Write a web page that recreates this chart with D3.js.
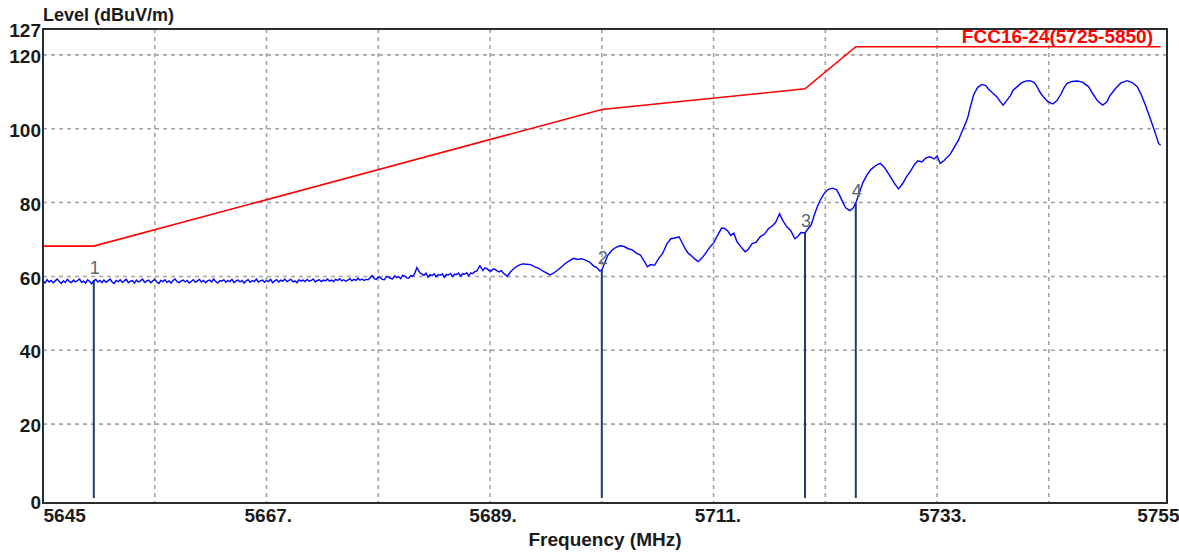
<!DOCTYPE html>
<html lang="en">

<head>
    <meta charset="UTF-8">
    <title>Radiated emission - band edge</title>
    <script src="https://d3js.org/d3.v7.min.js"></script>
    <style>
        body { margin: 0; background: #fff; }
        svg { display: block; font-family: "Liberation Sans", Arial, sans-serif; }
    </style>
</head>

<body>
    <div id="chart"></div>

    <script>
        // Axis ticks
        const yTicks = [0, 20, 40, 60, 80, 100, 120, 127];
        const yGrid = [20, 40, 60, 80, 100, 120];
        const xLabels = [5645, 5667, 5689, 5711, 5733, 5755];
        const xLabelText = ["5645", "5667.", "5689.", "5711.", "5733.", "5755"];
        const xGrid = [5656, 5667, 5678, 5689, 5700, 5711, 5722, 5733, 5744];

        // FCC limit line (MHz, dBuV/m)
        const limitName = "FCC16-24(5725-5850)";
        const limit = [[5645, 68.2], [5650, 68.2], [5700, 105.2], [5720, 110.8], [5725, 122.2], [5755, 122.2]];

        // Markers (MHz, dBuV/m)
        const markerIds = ["1", "2", "3", "4"];
        const markers = [[5650, 59.0], [5700, 61.7], [5720, 71.8], [5725, 79.8]];

        const trace = [
            [5645.0, 58.9], [5645.2, 58.2], [5645.4, 59.1], [5645.6, 58.5], [5645.8, 58.9], [5646.0, 58.3], [5646.2, 58.8], [5646.4, 59.3], [5646.6, 58.6], [5646.8, 58.1],
            [5647.0, 58.8], [5647.2, 58.4], [5647.4, 59.2], [5647.6, 58.6], [5647.8, 58.3], [5648.0, 59.0], [5648.2, 58.5], [5648.4, 58.9], [5648.6, 59.3], [5648.8, 58.4],
            [5649.0, 58.7], [5649.2, 58.2], [5649.4, 59.1], [5649.6, 58.6], [5649.8, 58.0], [5650.0, 58.8], [5650.2, 59.2], [5650.4, 58.5], [5650.6, 58.9], [5650.8, 58.3],
            [5651.0, 59.0], [5651.2, 58.4], [5651.4, 58.8], [5651.6, 59.3], [5651.8, 58.5], [5652.0, 58.1], [5652.2, 58.9], [5652.4, 58.6], [5652.6, 59.1], [5652.8, 58.4],
            [5653.0, 58.8], [5653.2, 59.2], [5653.4, 58.3], [5653.6, 58.7], [5653.8, 58.9], [5654.0, 58.2], [5654.2, 59.0], [5654.4, 58.5], [5654.6, 58.8], [5654.8, 59.3],
            [5655.0, 58.4], [5655.2, 58.7], [5655.4, 59.0], [5655.6, 58.3], [5655.8, 58.8], [5656.0, 59.2], [5656.2, 58.5], [5656.4, 58.1], [5656.6, 58.9], [5656.8, 58.6],
            [5657.0, 59.1], [5657.2, 58.4], [5657.4, 58.8], [5657.6, 58.2], [5657.8, 58.9], [5658.0, 59.3], [5658.2, 58.6], [5658.4, 58.3], [5658.6, 58.8], [5658.8, 59.0],
            [5659.0, 58.5], [5659.2, 58.9], [5659.4, 58.2], [5659.6, 58.7], [5659.8, 59.1], [5660.0, 58.4], [5660.2, 58.8], [5660.4, 59.2], [5660.6, 58.5], [5660.8, 58.9],
            [5661.0, 58.3], [5661.2, 58.8], [5661.4, 59.0], [5661.6, 58.5], [5661.8, 59.3], [5662.0, 58.6], [5662.2, 58.2], [5662.4, 58.9], [5662.6, 58.7], [5662.8, 59.1],
            [5663.0, 58.4], [5663.2, 58.9], [5663.4, 58.6], [5663.6, 59.2], [5663.8, 58.3], [5664.0, 58.8], [5664.2, 59.0], [5664.4, 58.5], [5664.6, 58.9], [5664.8, 58.2],
            [5665.0, 58.8], [5665.2, 59.1], [5665.4, 58.4], [5665.6, 58.9], [5665.8, 58.6], [5666.0, 59.3], [5666.2, 58.5], [5666.4, 58.8], [5666.6, 59.0], [5666.8, 58.4],
            [5667.0, 58.9], [5667.2, 58.6], [5667.4, 59.2], [5667.6, 58.3], [5667.8, 58.8], [5668.0, 59.1], [5668.2, 58.5], [5668.4, 59.0], [5668.6, 58.7], [5668.8, 59.3],
            [5669.0, 58.6], [5669.2, 58.9], [5669.4, 59.2], [5669.6, 58.5], [5669.8, 58.8], [5670.0, 58.3], [5670.2, 59.1], [5670.4, 58.7], [5670.6, 59.0], [5670.8, 58.6],
            [5671.0, 59.2], [5671.2, 58.7], [5671.4, 58.9], [5671.6, 59.3], [5671.8, 58.5], [5672.0, 58.9], [5672.2, 59.1], [5672.4, 58.6], [5672.6, 59.0], [5672.8, 58.8],
            [5673.0, 59.3], [5673.2, 58.7], [5673.4, 59.0], [5673.6, 58.6], [5673.8, 59.2], [5674.0, 58.9], [5674.2, 59.4], [5674.4, 58.8], [5674.6, 59.1], [5674.8, 58.7],
            [5675.0, 59.0], [5675.2, 59.4], [5675.4, 58.8], [5675.6, 59.2], [5675.8, 58.9], [5676.0, 59.5], [5676.2, 59.0], [5676.4, 59.3], [5676.6, 58.9], [5676.8, 59.2],
            [5677.0, 59.1], [5677.4, 60.2], [5677.6, 59.4], [5677.8, 59.2], [5678.0, 59.9], [5678.2, 59.6], [5678.4, 59.2], [5678.6, 59.1], [5678.8, 60.0], [5679.0, 59.8],
            [5679.2, 59.5], [5679.4, 59.3], [5679.6, 60.1], [5679.8, 59.7], [5680.0, 59.9], [5680.2, 59.4], [5680.4, 60.3], [5680.6, 60.1], [5680.8, 59.6], [5681.0, 59.5],
            [5681.2, 60.2], [5681.4, 60.0], [5681.6, 60.9], [5681.8, 62.4], [5682.1, 61.0], [5682.3, 60.6], [5682.5, 60.3], [5682.7, 60.9], [5682.9, 59.8], [5683.1, 60.5],
            [5683.3, 60.2], [5683.5, 60.7], [5683.7, 59.9], [5683.9, 60.5], [5684.1, 60.3], [5684.3, 60.7], [5684.5, 59.8], [5684.7, 60.5], [5684.9, 60.4], [5685.1, 60.8],
            [5685.3, 60.0], [5685.5, 60.6], [5685.7, 60.5], [5685.9, 60.9], [5686.1, 60.1], [5686.3, 60.7], [5686.5, 60.6], [5686.7, 61.0], [5686.9, 60.2], [5687.1, 60.9],
            [5687.3, 60.8], [5687.5, 61.3], [5687.7, 61.5], [5688.0, 62.9], [5688.3, 61.6], [5688.5, 62.3], [5688.7, 62.1], [5688.9, 61.6], [5689.1, 61.4], [5689.3, 62.0],
            [5689.5, 61.9], [5689.7, 61.5], [5689.9, 61.2], [5690.1, 61.6], [5690.3, 60.9], [5690.5, 60.5], [5690.7, 60.0], [5691.0, 61.2], [5691.4, 62.3], [5691.8, 63.0],
            [5692.2, 63.4], [5692.6, 63.3], [5693.0, 63.2], [5693.4, 62.6], [5693.8, 62.2], [5694.2, 61.4], [5694.6, 60.9], [5694.9, 60.4], [5695.2, 60.8], [5695.6, 61.6],
            [5696.0, 62.5], [5696.4, 63.5], [5696.8, 64.2], [5697.2, 64.9], [5697.6, 64.6], [5698.0, 64.8], [5698.4, 64.4], [5698.8, 63.9], [5699.2, 62.8], [5699.5, 62.4],
            [5699.8, 61.5], [5700.0, 61.7], [5700.3, 63.8], [5700.6, 65.8], [5701.0, 67.1], [5701.4, 67.9], [5701.8, 68.3], [5702.2, 68.1], [5702.6, 67.5], [5703.0, 67.2],
            [5703.4, 66.3], [5703.8, 65.8], [5704.2, 64.0], [5704.5, 62.6], [5704.8, 63.2], [5705.2, 63.0], [5705.6, 64.9], [5706.0, 66.3], [5706.4, 68.8], [5706.8, 70.2],
            [5707.2, 70.4], [5707.6, 70.7], [5707.9, 69.2], [5708.2, 67.5], [5708.5, 66.3], [5708.9, 65.4], [5709.2, 64.6], [5709.5, 64.0], [5709.9, 65.1], [5710.3, 66.6],
            [5710.7, 68.2], [5711.0, 69.0], [5711.4, 71.2], [5711.8, 73.1], [5712.1, 73.0], [5712.4, 72.3], [5712.7, 71.1], [5713.0, 71.7], [5713.3, 69.4], [5713.7, 68.0],
            [5714.1, 66.7], [5714.4, 67.3], [5714.8, 68.9], [5715.2, 69.3], [5715.6, 70.8], [5716.0, 71.4], [5716.4, 72.9], [5716.8, 73.7], [5717.1, 74.6], [5717.5, 77.0],
            [5717.8, 75.2], [5718.2, 73.5], [5718.6, 72.4], [5719.0, 70.2], [5719.3, 70.8], [5719.6, 71.9], [5720.0, 71.8], [5720.3, 72.9], [5720.6, 73.9], [5720.9, 76.5],
            [5721.2, 78.8], [5721.5, 80.7], [5721.9, 82.5], [5722.3, 83.6], [5722.7, 83.9], [5723.1, 83.5], [5723.4, 82.0], [5723.7, 80.2], [5724.0, 78.6], [5724.4, 77.8],
            [5724.7, 78.4], [5725.0, 79.9], [5725.3, 82.3], [5725.7, 85.4], [5726.1, 87.5], [5726.5, 89.0], [5727.0, 90.1], [5727.4, 90.6], [5727.8, 89.6], [5728.1, 88.3],
            [5728.4, 87.0], [5728.8, 85.2], [5729.2, 83.7], [5729.6, 85.1], [5730.0, 87.0], [5730.4, 88.6], [5730.8, 90.4], [5731.1, 91.3], [5731.5, 91.0], [5731.9, 92.1],
            [5732.3, 92.4], [5732.7, 91.8], [5733.0, 92.6], [5733.3, 90.6], [5733.7, 91.4], [5734.0, 92.3], [5734.3, 93.1], [5734.7, 95.0], [5735.1, 96.9], [5735.5, 99.5],
            [5736.0, 102.8], [5736.3, 106.2], [5736.6, 109.2], [5737.0, 111.2], [5737.4, 112.0], [5737.8, 111.7], [5738.1, 110.6], [5738.5, 109.6], [5738.9, 108.6], [5739.2, 107.4],
            [5739.5, 106.4], [5739.9, 107.8], [5740.2, 108.9], [5740.5, 110.5], [5740.9, 111.4], [5741.3, 112.4], [5741.7, 112.9], [5742.1, 113.0], [5742.5, 112.6], [5742.8, 111.6],
            [5743.1, 110.0], [5743.5, 108.5], [5743.9, 107.3], [5744.4, 106.7], [5744.8, 107.6], [5745.2, 109.4], [5745.5, 111.1], [5745.8, 112.3], [5746.3, 112.8], [5746.8, 112.9],
            [5747.3, 112.6], [5747.9, 111.4], [5748.3, 109.6], [5748.8, 107.5], [5749.3, 106.4], [5749.7, 107.2], [5750.0, 108.9], [5750.2, 109.6], [5750.6, 111.0], [5751.1, 112.4],
            [5751.7, 113.0], [5752.2, 112.5], [5752.7, 111.4], [5753.1, 109.2], [5753.5, 106.4], [5753.9, 103.4], [5754.2, 101.0], [5754.5, 98.6], [5754.8, 96.0], [5755.0, 95.5]
        ];

        const width = 1179;
        const height = 555;
        // plot frame
        const frame = { left: 43, top: 29, right: 1167, bottom: 503 };

        const xScale = d3.scaleLinear().domain([5645, 5755]).range([43, 1160.6]);
        // tick labels are spread over the full frame width
        const labelScale = d3.scaleLinear().domain([5645, 5755]).range([frame.left, frame.right]);
        const yScale = d3.scaleLinear().domain([0, 127]).range([498, frame.top]);

        const svg = d3.select("#chart")
            .append("svg")
            .attr("width", width)
            .attr("height", height);

        svg.append("defs").append("clipPath")
            .attr("id", "plot-clip")
            .append("rect")
            .attr("x", frame.left)
            .attr("y", frame.top + 1)
            .attr("width", frame.right - frame.left)
            .attr("height", frame.bottom - frame.top - 1);

        // grid
        const grid = svg.append("g")
            .attr("stroke", "#a4a4a4")
            .attr("stroke-width", 1.6)
            .attr("stroke-dasharray", "4,4");

        grid.selectAll(".hgrid")
            .data(yGrid)
            .join("line")
            .attr("x1", frame.left)
            .attr("x2", frame.right)
            .attr("y1", d => yScale(d))
            .attr("y2", d => yScale(d));

        grid.selectAll(".vgrid")
            .data(xGrid)
            .join("line")
            .attr("x1", d => xScale(d))
            .attr("x2", d => xScale(d))
            .attr("y1", frame.top)
            .attr("y2", frame.bottom);

        const plot = svg.append("g").attr("clip-path", "url(#plot-clip)");

        // limit line + its name
        const line = d3.line()
            .x(d => xScale(d[0]))
            .y(d => yScale(d[1]));

        plot.append("path")
            .datum(limit)
            .attr("fill", "none")
            .attr("stroke", "#ff0000")
            .attr("stroke-width", 1.6)
            .attr("d", line);

        plot.append("text")
            .attr("x", 1153)
            .attr("y", yScale(limit[limit.length - 1][1]) - 4)
            .attr("text-anchor", "end")
            .attr("fill", "#ff0000")
            .attr("font-size", "19px")
            .attr("font-weight", "bold")
            .text(limitName);

        // marker lines
        plot.selectAll(".marker")
            .data(markers)
            .join("line")
            .attr("x1", d => xScale(d[0]))
            .attr("x2", d => xScale(d[0]))
            .attr("y1", yScale(0))
            .attr("y2", d => yScale(d[1]))
            .attr("stroke", "#1f3d6b")
            .attr("stroke-width", 2);

        // trace
        plot.append("path")
            .datum(trace)
            .attr("fill", "none")
            .attr("stroke", "#0000ff")
            .attr("stroke-width", 1.4)
            .attr("d", line);

        plot.selectAll(".marker-label")
            .data(markers)
            .join("text")
            .attr("x", d => xScale(d[0]) + 1)
            .attr("y", d => yScale(d[1]) - 6)
            .attr("text-anchor", "middle")
            .attr("fill", "#55677a")
            .attr("font-size", "18px")
            .text((d, i) => markerIds[i]);

        // frame
        svg.append("rect")
            .attr("x", frame.left)
            .attr("y", frame.top)
            .attr("width", frame.right - frame.left)
            .attr("height", frame.bottom - frame.top)
            .attr("fill", "none")
            .attr("stroke", "#2b2b2b")
            .attr("stroke-width", 2);

        // y axis labels
        const yAxis = svg.append("g")
            .attr("transform", "translate(" + (frame.left - 2) + ",0)")
            .call(d3.axisLeft(yScale).tickValues(yTicks).tickSize(0).tickPadding(0));
        yAxis.select(".domain").remove();
        yAxis.selectAll(".tick")
            .attr("transform", d => "translate(0," + (d === 0 ? frame.bottom : yScale(d) + 2) + ")");
        yAxis.selectAll("text")
            .attr("font-size", "19px")
            .attr("font-weight", "bold")
            .attr("font-family", "'Liberation Sans', Arial, sans-serif")
            .attr("fill", "#1a1a1a");

        // x axis labels
        const xAxis = svg.append("g")
            .attr("transform", "translate(0," + frame.bottom + ")")
            .call(d3.axisBottom(labelScale).tickValues(xLabels).tickSize(0).tickPadding(6)
                .tickFormat((d, i) => xLabelText[i]));
        xAxis.select(".domain").remove();
        xAxis.selectAll("text")
            .attr("font-size", "19px")
            .attr("font-weight", "bold")
            .attr("font-family", "'Liberation Sans', Arial, sans-serif")
            .attr("fill", "#1a1a1a")
            .attr("text-anchor", (d, i) => i === 0 ? "start" : (i === xLabels.length - 1 ? "end" : "middle"))
            .attr("x", (d, i) => i === xLabels.length - 1 ? width - frame.right : 0);

        // titles
        svg.append("text")
            .attr("x", frame.left)
            .attr("y", 21)
            .attr("font-size", "18px")
            .attr("font-weight", "bold")
            .attr("fill", "#1a1a1a")
            .text("Level (dBuV/m)");

        svg.append("text")
            .attr("x", 605)
            .attr("y", 546)
            .attr("text-anchor", "middle")
            .attr("font-size", "19px")
            .attr("font-weight", "bold")
            .attr("fill", "#1a1a1a")
            .text("Frequency (MHz)");
    </script>
</body>

</html>
